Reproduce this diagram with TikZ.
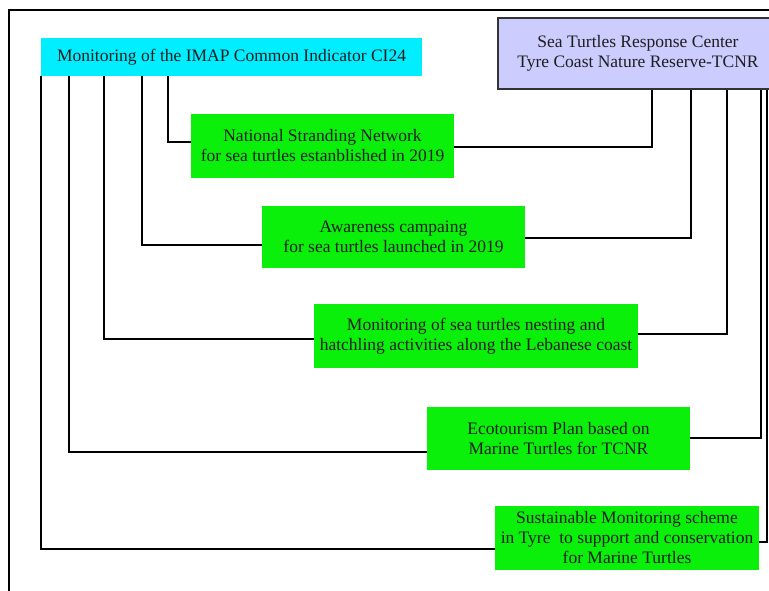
\documentclass[tikz,border=0pt]{standalone}
\usepackage{fontspec}
\setmainfont{Liberation Serif}
\usetikzlibrary{calc}
\definecolor{cyanbox}{RGB}{0,238,255}
\definecolor{lavbox}{RGB}{204,204,255}
\definecolor{greenbox}{RGB}{10,240,10}
\definecolor{txt}{RGB}{30,30,30}
\tikzset{
  boxtext/.style={font=\fontsize{17.5}{20}\selectfont, text=txt, align=center, inner sep=0pt, anchor=center},
  greenbox/.style={boxtext, fill=greenbox, minimum height=64pt},
  conn/.style={draw=black, line width=1.5pt},
  frameline/.style={draw=black, line width=2pt}
}
\begin{document}
\begin{tikzpicture}[x=1pt,y=-1pt]
\useasboundingbox (0,0) rectangle (769,591);
\clip (0,0) rectangle (769,591);
% outer frame
\draw[frameline] (780,10) -- (9,10) -- (9,600);
% top boxes
\node[boxtext, fill=cyanbox, minimum width=381pt, minimum height=38pt] (cyan) at (231.5,57) {Monitoring of the IMAP Common Indicator CI24};
\node[boxtext, fill=lavbox, draw=black!80, line width=2pt, minimum width=280pt, minimum height=71pt] (lav) at (638,53.5) {Sea Turtles Response Center\\Tyre Coast Nature Reserve-TCNR};
% green boxes
\node[greenbox, minimum width=263pt] (b1) at (322.5,146) {National Stranding Network\\for sea turtles estanblished in 2019};
\node[greenbox, minimum width=263pt, minimum height=62pt] (b2) at (393.5,237) {Awareness campaing\\for sea turtles launched in 2019};
\node[greenbox, minimum width=324pt] (b3) at (476,336) {Monitoring of sea turtles nesting and\\hatchling activities along the Lebanese coast};
\node[greenbox, minimum width=263pt, minimum height=63pt] (b4) at (558.5,438.5) {Ecotourism Plan based on\\Marine Turtles for TCNR};
\node[greenbox, minimum width=264pt] (b5) at (627,538) {Sustainable Monitoring scheme\\in Tyre \ to support and conservation\\for Marine Turtles};
% left connectors from the cyan box
\draw[conn] (cyan.south -| 168,0) |- ([yshift=4pt]b1.west);
\draw[conn] (cyan.south -| 142,0) |- ([yshift=-8pt]b2.west);
\draw[conn] (cyan.south -| 104,0) |- ([yshift=-3pt]b3.west);
\draw[conn] (cyan.south -| 69,0) |- ([yshift=-13.5pt]b4.west);
\draw[conn] (cyan.south -| 41,0) |- ([yshift=-11pt]b5.west);
% right connectors to the lavender box
\draw[conn] ([yshift=-1pt]b1.east) -| (lav.south -| 652,0);
\draw[conn] ([yshift=-1pt]b2.east) -| (lav.south -| 691,0);
\draw[conn] ([yshift=2pt]b3.east) -| (lav.south -| 727,0);
\draw[conn] ([yshift=0.5pt]b4.east) -| (lav.south -| 761,0);
\draw[conn] ([yshift=-4pt]b5.east) -| (lav.south -| 767,0);
\end{tikzpicture}
\end{document}
